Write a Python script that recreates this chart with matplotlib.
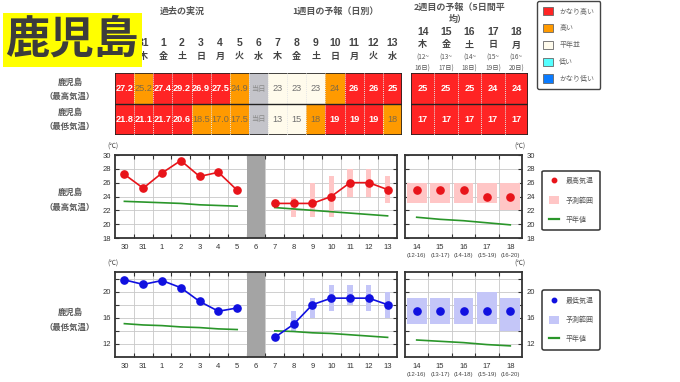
import numpy as np
import matplotlib
matplotlib.use('Agg')
import matplotlib.pyplot as plt
from matplotlib.patches import Rectangle, Patch
from matplotlib.lines import Line2D
import matplotlib.transforms as mtrans

plt.rcParams['font.family'] = ['Noto Sans CJK JP', 'DejaVu Sans']

W, H = 680, 382

# ---------------- data ----------------
station = '鹿児島'
days1 = ['30', '31', '1', '2', '3', '4', '5', '6', '7', '8', '9', '10', '11', '12', '13']
wdays1 = ['水', '木', '金', '土', '日', '月', '火', '水', '木', '金', '土', '日', '月', '火', '水']
days2 = ['14', '15', '16', '17', '18']
wdays2 = ['木', '金', '土', '日', '月']
periods_tbl = ['(12~\n16日)', '(13~\n17日)', '(14~\n18日)', '(15~\n19日)', '(16~\n20日)']
periods_axis = ['(12-16)', '(13-17)', '(14-18)', '(15-19)', '(16-20)']

high_tbl = ['27.2', '25.2', '27.4', '29.2', '26.9', '27.5', '24.9', '当日', '23', '23', '23', '24', '26', '26', '25']
high_cls = ['vh', 'h', 'vh', 'vh', 'vh', 'vh', 'h', 'today', 'n', 'n', 'n', 'h', 'vh', 'vh', 'vh']
low_tbl = ['21.8', '21.1', '21.7', '20.6', '18.5', '17.0', '17.5', '当日', '13', '15', '18', '19', '19', '19', '18']
low_cls = ['vh', 'vh', 'vh', 'vh', 'h', 'h', 'h', 'today', 'n', 'n', 'h', 'vh', 'vh', 'vh', 'h']
high_tbl2 = ['25', '25', '25', '24', '24']
high_cls2 = ['vh', 'vh', 'vh', 'vh', 'vh']
low_tbl2 = ['17', '17', '17', '17', '17']
low_cls2 = ['vh', 'vh', 'vh', 'vh', 'vh']

obs_days = ['30', '31', '1', '2', '3', '4', '5']
fc_days = ['7', '8', '9', '10', '11', '12', '13']
today_day = '6'
hidden_header_day = '30'   # covered by the station title box

high_obs = [27.2, 25.2, 27.4, 29.2, 26.9, 27.5, 24.9]
high_fc = [23, 23, 23, 24, 26, 26, 25]
high_fc_lo = [np.nan, 21, 21, 21, 24, 24, 23]
high_fc_hi = [np.nan, 24, 26, 27, 28, 28, 27]
high_norm_obs = [23.3, 23.2, 23.1, 23.0, 22.8, 22.7, 22.6]
high_norm_fc = [22.4, 22.2, 22.0, 21.8, 21.6, 21.4, 21.2]
high_w2 = [25, 25, 25, 24, 24]
high_w2_lo = [23, 23, 23, 23, 22]
high_w2_hi = [26, 26, 26, 26, 26]
high_norm_w2 = [21.0, 20.7, 20.5, 20.2, 19.9]

low_obs = [21.8, 21.1, 21.7, 20.6, 18.5, 17.0, 17.5]
low_fc = [13, 15, 18, 19, 19, 19, 18]
low_fc_lo = [np.nan, 14, 16, 17, 18, 17, 16]
low_fc_hi = [np.nan, 17, 19, 21, 21, 21, 20]
low_norm_obs = [15.1, 14.9, 14.8, 14.6, 14.5, 14.3, 14.2]
low_norm_fc = [14.0, 13.9, 13.7, 13.6, 13.4, 13.2, 13.0]
low_w2 = [17, 17, 17, 17, 17]
low_w2_lo = [15, 15, 15, 15, 14]
low_w2_hi = [19, 19, 19, 20, 19]
low_norm_w2 = [12.6, 12.4, 12.2, 11.9, 11.7]

legend_classes = ['かなり高い', '高い', '平年並', '低い', 'かなり低い']

# ---------------- styles ----------------
CLS_FC = {'vh': '#FF2424', 'h': '#FF9A00', 'n': '#FFFBEC', 'today': '#C4C4CA'}
CLS_TC = {'vh': 'white', 'h': '#7d6a48', 'n': '#707070', 'today': '#8a8a8a'}
LEG_FC = ['#FF2424', '#FF9A00', '#FFFBEC', '#55FFFF', '#0A7BFF']
RED = '#E8141A'
BLUE = '#1010E0'
PINK = '#FFC6C6'
LBLUE = '#C4C6F8'
GREEN = '#2A962A'
SPINE = '#333333'
GRID = '#C8C8C8'
JP = ['Noto Sans CJK JP']
NUM = ['Liberation Sans', 'DejaVu Sans']

fig = plt.figure(figsize=(W / 100, H / 100), dpi=100)


def add_ax(x0, y0, x1, y1):
    return fig.add_axes([x0 / W, 1 - y1 / H, (x1 - x0) / W, (y1 - y0) / H])


ov = fig.add_axes([0, 0, 1, 1])
ov.set_xlim(0, W)
ov.set_ylim(H, 0)
ov.axis('off')
ov.set_zorder(10)


# ---------------- table ----------------
def draw_table(ax, rows, classes):
    n = len(rows[0])
    ax.set_xlim(-0.5, n - 0.5)
    ax.set_ylim(len(rows), 0)
    ax.axis('off')
    for r, (vals, cls) in enumerate(zip(rows, classes)):
        for i, (v, c) in enumerate(zip(vals, cls)):
            ax.add_patch(Rectangle((i - 0.5, r), 1, 1, facecolor=CLS_FC[c], edgecolor='none'))
            bold = c == 'vh'
            if v[0].isdigit():
                ax.text(i, r + 0.5, v, ha='center', va='center', color=CLS_TC[c],
                        fontsize=6.6, fontweight='bold' if bold else 'normal', family=NUM)
            else:
                ax.text(i, r + 0.5, v, ha='center', va='center', color=CLS_TC[c],
                        fontsize=5.2, family=JP)
    for i in range(n - 1):
        ax.plot([i + 0.5, i + 0.5], [0, len(rows)], color='#e6e6e6', lw=0.7, ls=(0, (1, 1)))
    ax.plot([-0.5, n - 0.5], [1, 1], color='#222', lw=1.0)
    ax.add_patch(Rectangle((-0.5, 0), n, len(rows), facecolor='none', edgecolor='#222', lw=1.2))


t1 = add_ax(115, 73, 402, 135)
draw_table(t1, [high_tbl, low_tbl], [high_cls, low_cls])
t2 = add_ax(411, 73, 528, 135)
draw_table(t2, [high_tbl2, low_tbl2], [high_cls2, low_cls2])

tr1 = mtrans.blended_transform_factory(t1.transData, ov.transData)
tr2 = mtrans.blended_transform_factory(t2.transData, ov.transData)
HC = '#444444'
for i, (d, w) in enumerate(zip(days1, wdays1)):
    if d == hidden_header_day:
        continue
    ov.text(i, 43, d, transform=tr1, ha='center', va='center', fontsize=7.5, fontweight='bold',
            color=HC, family=NUM)
    ov.text(i, 56, w, transform=tr1, ha='center', va='center', fontsize=6.5, fontweight='bold',
            color=HC, family=JP)
for i, (d, w, p) in enumerate(zip(days2, wdays2, periods_tbl)):
    ov.text(i, 32, d, transform=tr2, ha='center', va='center', fontsize=7.5, fontweight='bold',
            color=HC, family=NUM)
    ov.text(i, 45, w, transform=tr2, ha='center', va='center', fontsize=6.5, fontweight='bold',
            color=HC, family=JP)
    ov.text(i, 63, p, transform=tr2, ha='center', va='center', fontsize=4.6, color='#555',
            linespacing=1.6, family=JP)

ov.text(3, 11, '過去の実況', transform=tr1, ha='center', va='center', fontsize=6.5,
        fontweight='bold', color='#555', family=JP)
ov.text(11, 11, '1週目の予報（日別）', transform=tr1, ha='center', va='center', fontsize=6.5,
        fontweight='bold', color='#555', family=JP)
ov.text(460, 7, '2週目の予報（5日間平', ha='center', va='center', fontsize=6.5,
        fontweight='bold', color='#555', family=JP)
ov.text(458, 19, '均）', ha='center', va='center', fontsize=6.5, fontweight='bold',
        color='#555', family=JP)

# title box
ov.add_patch(Rectangle((3, 13), 139, 54, facecolor='#FFFF00', edgecolor='none', zorder=5))
ov.text(72, 40, station, ha='center', va='center', fontsize=32, fontweight='bold',
        color='#3c3c3c', zorder=6, family=JP)

# row labels
LC = '#555555'
for y0, kind in [(82, '（最高気温）'), (112, '（最低気温）')]:
    ov.text(70, y0, station, ha='center', va='center', fontsize=6, fontweight='bold', color=LC, family=JP)
    ov.text(70, y0 + 14, kind, ha='center', va='center', fontsize=6, fontweight='bold', color=LC, family=JP)
for y0, kind in [(192, '（最高気温）'), (312, '（最低気温）')]:
    ov.text(70, y0, station, ha='center', va='center', fontsize=6, fontweight='bold', color=LC, family=JP)
    ov.text(70, y0 + 15, kind, ha='center', va='center', fontsize=6, fontweight='bold', color=LC, family=JP)

# colour legend
leg_handles = [Patch(facecolor=c, edgecolor='#666', lw=0.6) for c in LEG_FC]
lg = fig.legend(leg_handles, legend_classes, loc='center', bbox_to_anchor=(568.5 / W, 1 - 45 / H),
                fontsize=5, labelspacing=1.2, handlelength=1.5, handleheight=1.5, handletextpad=0.9,
                borderpad=0.8, frameon=True, fancybox=True, edgecolor='#444', framealpha=1,
                labelcolor='#666')
lg.get_frame().set_linewidth(1.0)


# ---------------- charts ----------------
def style_axis(ax, n, labels, yticks, ylabels_ticks, side, ylim):
    ax.set_xlim(-0.5, n - 0.5)
    ax.set_ylim(*ylim)
    for s in ax.spines.values():
        s.set_color(SPINE)
        s.set_linewidth(1.3)
    ax.set_xticks(range(n))
    ax.set_xticklabels(labels, family=NUM)
    ax.tick_params(axis='x', which='major', length=0, labelsize=5.5, labelcolor='#333', pad=4)
    ax.set_xticks(np.arange(n - 1) + 0.5, minor=True)
    ax.tick_params(axis='x', which='minor', length=3, direction='in', top=True, bottom=True,
                   width=0.8, color=SPINE)
    ax.set_yticks(ylabels_ticks)
    ax.set_yticks([t for t in yticks if t not in ylabels_ticks], minor=True)
    ax.set_yticklabels([str(t) for t in ylabels_ticks], family=NUM)
    ax.tick_params(axis='y', which='both', length=3, direction='in', width=0.8, color=SPINE,
                   labelsize=5.5, labelcolor='#333', left=True, right=True,
                   labelleft=(side == 'left'), labelright=(side == 'right'), pad=3)
    ax.grid(which='minor', axis='x', color=GRID, lw=0.6)
    ax.grid(which='both', axis='y', color=GRID, lw=0.6)
    ax.set_axisbelow(True)


def chart(y0, y1, ylim, yticks, ylab, obs, fc, fc_lo, fc_hi, n_obs, n_fc, w2, w2_lo, w2_hi, n_w2,
          col, band, leg_label, leg_center):
    a1 = add_ax(115, y0, 397, y1)
    a2 = add_ax(405, y0, 522, y1)
    style_axis(a1, len(days1), days1, yticks, ylab, 'left', ylim)
    style_axis(a2, len(days2), days2, yticks, ylab, 'right', ylim)
    xo = [days1.index(d) for d in obs_days]
    xf = [days1.index(d) for d in fc_days]
    xt = days1.index(today_day)
    a1.axvspan(xt - 0.5, xt + 0.5, color='#A4A4A4', zorder=1.5, lw=0)
    lo = np.array(fc_lo, float)
    hi = np.array(fc_hi, float)
    a1.bar(xf, hi - lo, bottom=lo, width=0.28, color=band, zorder=1.6)
    a1.plot(xo, n_obs, color=GREEN, lw=1.2, zorder=2)
    a1.plot(xf, n_fc, color=GREEN, lw=1.2, zorder=2)
    a1.plot(xo, obs, '-o', color=col, ms=5.2, lw=1.2, zorder=3)
    a1.plot(xf, fc, '-o', color=col, ms=5.2, lw=1.2, zorder=3)
    x2 = np.arange(len(days2))
    a2.bar(x2, np.array(w2_hi) - np.array(w2_lo), bottom=w2_lo, width=0.84, color=band, zorder=1.6)
    a2.plot(x2, n_w2, color=GREEN, lw=1.2, zorder=2)
    a2.plot(x2, w2, 'o', color=col, ms=5.2, zorder=3)
    tb = mtrans.blended_transform_factory(a2.transData, a2.transAxes)
    hpx = y1 - y0
    for i, p in enumerate(periods_axis):
        a2.text(i, -17.5 / hpx, p, transform=tb, ha='center', va='center', fontsize=4.3,
                color='#444', family=NUM)
    ov.text(113, y0 - 8, '(℃)', ha='center', va='center', fontsize=4.8, color='#444', family=JP)
    ov.text(520, y0 - 8, '(℃)', ha='center', va='center', fontsize=4.8, color='#444', family=JP)
    handles = [Line2D([], [], marker='o', color=col, ls='none', ms=3.2),
               Patch(facecolor=band, edgecolor='none'),
               Line2D([], [], color=GREEN, lw=1.6)]
    lgc = fig.legend(handles, [leg_label, '予測範囲', '平年値'], loc='center',
                     bbox_to_anchor=(leg_center[0] / W, 1 - leg_center[1] / H),
                     fontsize=5, labelspacing=1.6, handlelength=1.5, handleheight=1.3,
                     handletextpad=0.9, borderpad=0.9, frameon=True, fancybox=True,
                     edgecolor='#333', framealpha=1, labelcolor='#555')
    lgc.get_frame().set_linewidth(1.1)


chart(155, 238, (18, 30), [18, 20, 22, 24, 26, 28, 30], [18, 20, 22, 24, 26, 28, 30],
      high_obs, high_fc, high_fc_lo, high_fc_hi, high_norm_obs, high_norm_fc,
      high_w2, high_w2_lo, high_w2_hi, high_norm_w2, RED, PINK, '最高気温', (571, 200.5))
chart(272, 357, (10, 23), [12, 14, 16, 18, 20, 22], [12, 16, 20],
      low_obs, low_fc, low_fc_lo, low_fc_hi, low_norm_obs, low_norm_fc,
      low_w2, low_w2_lo, low_w2_hi, low_norm_w2, BLUE, LBLUE, '最低気温', (571, 320))

fig.savefig('out.png', dpi=100)
